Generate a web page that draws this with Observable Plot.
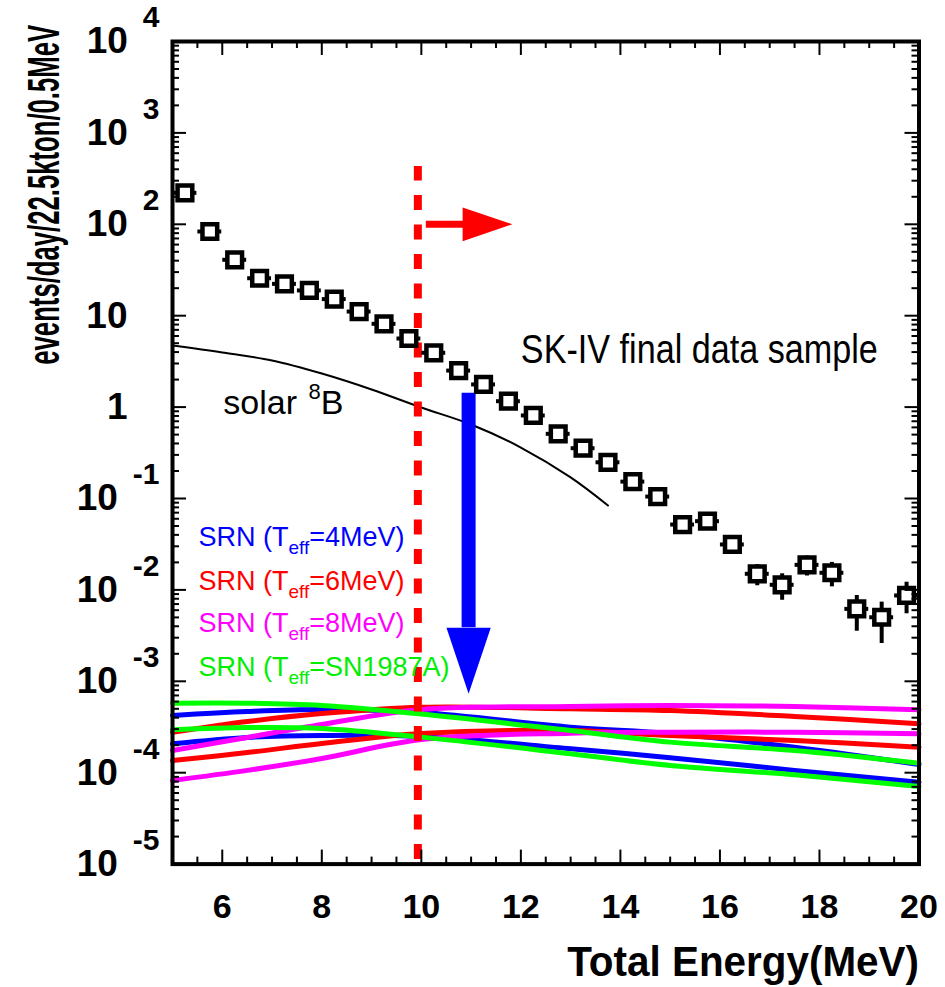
<!DOCTYPE html>
<html><head><meta charset="utf-8">
<script src="https://cdn.jsdelivr.net/npm/d3@7"></script>
<script src="https://cdn.jsdelivr.net/npm/@observablehq/plot@0.6"></script>
<style>
body{margin:0;background:#fff;}
#chart svg{display:block;}
</style></head><body><div id="chart"></div>
<script>
// ---- data: SK-IV final data sample (events/day/22.5kton/0.5MeV)
const binCenters = [5.25,5.75,6.25,6.75,7.25,7.75,8.25,8.75,9.25,9.75,10.25,10.75,11.25,11.75,12.25,12.75,13.25,13.75,14.25,14.75,15.25,15.75,16.25,16.75,17.25,17.75,18.25,18.75,19.25,19.75];
const rates   = [221,83.4,40.9,25.7,22.3,18.9,15.2,11.1,8.15,5.63,3.93,2.51,1.77,1.16,0.81,0.51,0.355,0.249,0.153,0.105,0.0519,0.0565,0.0314,0.0150,0.01137,0.0188,0.0154,0.0062,0.00502,0.00869];
const ratesLo = [218,82.0,39.9,25.0,21.6,18.3,14.6,10.6,7.75,5.31,3.68,2.33,1.63,1.06,0.73,0.455,0.31,0.215,0.130,0.088,0.042,0.047,0.0255,0.0111,0.0077,0.0142,0.0108,0.00353,0.00259,0.00548];
const ratesHi = [224,84.8,41.9,26.4,23.0,19.5,15.8,11.6,8.55,5.95,4.18,2.69,1.91,1.26,0.89,0.565,0.40,0.283,0.176,0.122,0.062,0.066,0.0373,0.0189,0.0150,0.0235,0.0200,0.00869,0.00735,0.01213];

// solar 8B expectation
const solarEnergy = [5, 6, 7, 8, 9, 10, 11, 12, 13, 13.75];
const solarRate   = [4.72, 3.96, 3.24, 2.33, 1.56, 0.99, 0.645, 0.361, 0.17, 0.0838];

// SRN predictions (upper / lower curve for each Teff)
const srnEnergy = [5, 6.5, 8, 10, 13, 15, 17.5, 20];
const srn4High  = [4.23e-4, 4.67e-4, 4.91e-4, 4.56e-4, 3.15e-4, 2.69e-4, 1.90e-4, 1.23e-4];
const srn4Low   = [2.07e-4, 2.43e-4, 2.55e-4, 2.49e-4, 1.83e-4, 1.46e-4, 1.06e-4, 7.87e-5];
const srn6High  = [2.77e-4, 3.63e-4, 4.44e-4, 5.21e-4, 5.00e-4, 4.79e-4, 4.12e-4, 3.43e-4];
const srn6Low   = [1.36e-4, 1.66e-4, 2.09e-4, 2.69e-4, 2.89e-4, 2.55e-4, 2.25e-4, 1.90e-4];
const srn8High  = [1.75e-4, 2.43e-4, 3.37e-4, 4.91e-4, 5.30e-4, 5.43e-4, 5.30e-4, 4.88e-4];
const srn8Low   = [8.22e-5, 1.06e-4, 1.43e-4, 2.31e-4, 2.71e-4, 2.77e-4, 2.77e-4, 2.66e-4];
const srnSNHigh = [5.76e-4, 5.76e-4, 5.44e-4, 4.39e-4, 2.89e-4, 2.16e-4, 1.75e-4, 1.27e-4];
const srnSNLow  = [2.95e-4, 3.12e-4, 3.05e-4, 2.45e-4, 1.61e-4, 1.20e-4, 9.48e-5, 7.06e-5];

const legendLabels = ["SRN (T_{eff}=4MeV)", "SRN (T_{eff}=6MeV)", "SRN (T_{eff}=8MeV)", "SRN (T_{eff}=SN1987A)"];
const legendColors = ["#0000ff", "#ff0000", "#ff00ff", "#00ee00"];
const legendY = [0.0299, 0.0101, 0.00342, 0.00113];
const legendE = 5.52;

// annotations
const thresholdE = 9.93, thresholdTop = 428;
const downArrowE = 10.95, downArrowTop = 1.42, downArrowHeadBase = 3.85e-3, downArrowTip = 7.3e-4, downArrowHalfWidth = 0.445;
const rightArrowY = 100, rightArrowStart = 10.1, rightArrowHeadBase = 10.83, rightArrowTip = 11.83, rightArrowHeadLow = 65.3, rightArrowHeadHigh = 152.8;
const skLabel = {E: 12.0, y: 3.0, text: "SK-IV final data sample"};
const solarLabel = {E: 6.02, y: 0.845, text: "solar ^{8}B"};

// axes
const xMajorTicks = [6, 8, 10, 12, 14, 16, 18, 20];
const xMinorTicks = [5.5,6.5,7,7.5,8.5,9,9.5,10.5,11,11.5,12.5,13,13.5,14.5,15,15.5,16.5,17,17.5,18.5,19,19.5];
const yMajorTicks = [1e-5,1e-4,1e-3,1e-2,1e-1,1,10,100,1000,10000];
const yTickLabels = ["10^{-5}","10^{-4}","10^{-3}","10^{-2}","10^{-1}","1","10","10^{2}","10^{3}","10^{4}"];
const yMinorTicks = d3.range(-5, 4).flatMap(e => d3.range(2, 10).map(k => k * 10 ** e));
const xTitle = "Total Energy(MeV)";
const yTitle = "events/day/22.5kton/0.5MeV";

// ---- build tables
const points = binCenters.map((E, i) => ({E, v: rates[i], lo: ratesLo[i], hi: ratesHi[i]}));
const solar = solarEnergy.map((E, i) => ({E, v: solarRate[i]}));
const srnSeries = [
  {c: "#0000ff", v: srn4High}, {c: "#0000ff", v: srn4Low},
  {c: "#ff0000", v: srn6High}, {c: "#ff0000", v: srn6Low},
  {c: "#ff00ff", v: srn8High}, {c: "#ff00ff", v: srn8Low},
  {c: "#00ff00", v: srnSNHigh}, {c: "#00ff00", v: srnSNLow}
];
const legend = legendLabels.map((t, i) => ({t, c: legendColors[i], y: legendY[i]}));
const downHead = [{E: downArrowE - downArrowHalfWidth, v: downArrowHeadBase}, {E: downArrowE + downArrowHalfWidth, v: downArrowHeadBase}, {E: downArrowE, v: downArrowTip}];
const rightHead = [{E: rightArrowHeadBase, v: rightArrowHeadLow}, {E: rightArrowHeadBase, v: rightArrowHeadHigh}, {E: rightArrowTip, v: rightArrowY}];
const yLabelMap = new Map(yMajorTicks.map((t, i) => [t, yTickLabels[i]]));

const W = 945, H = 987, mL = 172, mR = 26.5, mT = 41, mB = 123.4;
const plotW = W - mL - mR, plotH = H - mT - mB;
const majorLen = 14, minorLen = 7, tickW = 2;

const marks = [];
for (const s of srnSeries) {
  marks.push(Plot.line(srnEnergy, {x: d => d, y: (d, i) => s.v[i], stroke: s.c, strokeWidth: 5, curve: "catmull-rom"}));
}
marks.push(
  Plot.line(solar, {x: "E", y: "v", stroke: "black", strokeWidth: 2, curve: "catmull-rom"}),
  Plot.ruleX([thresholdE], {x: d => d, y1: 1e-5, y2: thresholdTop, stroke: "#ff0000", strokeWidth: 8, strokeDasharray: "15,14.5", strokeDashoffset: 25, strokeLinecap: "butt"}),
  Plot.ruleX([downArrowE], {x: d => d, y1: downArrowTop, y2: downArrowHeadBase, stroke: "#0000ff", strokeWidth: 14, strokeLinecap: "butt"}),
  Plot.line(downHead, {x: "E", y: "v", fill: "#0000ff", stroke: "none"}),
  Plot.ruleY([rightArrowY], {y: d => d, x1: rightArrowStart, x2: rightArrowHeadBase + 0.05, stroke: "#ff0000", strokeWidth: 7, strokeLinecap: "butt"}),
  Plot.line(rightHead, {x: "E", y: "v", fill: "#ff0000", stroke: "none"}),
  Plot.ruleX(points, {x: "E", y1: "lo", y2: "hi", stroke: "black", strokeWidth: 4}),
  Plot.ruleY(points, {y: "v", x1: d => d.E - 0.24, x2: d => d.E + 0.24, stroke: "black", strokeWidth: 4}),
  Plot.dot(points, {x: "E", y: "v", symbol: "square", r: 8.3, stroke: "black", strokeWidth: 4.5, fill: "white"}),
  Plot.text([skLabel], {x: "E", y: "y", text: "text", textAnchor: "start", lineAnchor: "bottom", fontSize: 40, fill: "black", className: "sklabel"}),
  Plot.text([solarLabel], {x: "E", y: "y", text: "text", textAnchor: "start", lineAnchor: "bottom", fontSize: 34, fill: "black", className: "solarlabel"}),
  Plot.text(legend, {x: () => legendE, y: "y", text: "t", fill: d => d.c, textAnchor: "start", lineAnchor: "bottom", fontSize: 27, className: "srnlegend"}),
  // inward ticks on four sides
  Plot.ruleX(xMajorTicks, {x: d => d, insetTop: plotH - majorLen, stroke: "black", strokeWidth: tickW}),
  Plot.ruleX(xMinorTicks, {x: d => d, insetTop: plotH - minorLen, stroke: "black", strokeWidth: tickW}),
  Plot.ruleX(xMajorTicks, {x: d => d, insetBottom: plotH - majorLen, stroke: "black", strokeWidth: tickW}),
  Plot.ruleX(xMinorTicks, {x: d => d, insetBottom: plotH - minorLen, stroke: "black", strokeWidth: tickW}),
  Plot.ruleY(yMajorTicks, {y: d => d, insetRight: plotW - majorLen, stroke: "black", strokeWidth: tickW}),
  Plot.ruleY(yMinorTicks, {y: d => d, insetRight: plotW - minorLen, stroke: "black", strokeWidth: tickW}),
  Plot.ruleY(yMajorTicks, {y: d => d, insetLeft: plotW - majorLen, stroke: "black", strokeWidth: tickW}),
  Plot.ruleY(yMinorTicks, {y: d => d, insetLeft: plotW - minorLen, stroke: "black", strokeWidth: tickW}),
  Plot.frame({stroke: "black", strokeWidth: 4}),
  Plot.axisX({anchor: "bottom", ticks: xMajorTicks, tickSize: 0, tickPadding: 30, fontSize: 34, fontWeight: "bold", label: null, tickFormat: d => String(d)}),
  Plot.axisY({anchor: "left", ticks: yMajorTicks, tickSize: 0, tickPadding: 13, fontSize: 37, fontWeight: "bold", label: null, tickFormat: d => yLabelMap.get(d)}),
  Plot.text([xTitle], {frameAnchor: "bottom-right", text: d => d, dx: 0, dy: 111.4, textAnchor: "end", lineAnchor: "bottom", fontSize: 43, fontWeight: "bold", className: "xtitle"}),
  Plot.text([yTitle], {frameAnchor: "left", text: d => d, dx: -114, dy: -258, rotate: -90, textAnchor: "middle", lineAnchor: "bottom", fontSize: 44, fontWeight: "bold", className: "ytitle"})
);

const svg = Plot.plot({
  width: W, height: H,
  marginLeft: mL, marginRight: mR, marginTop: mT, marginBottom: mB,
  style: {fontFamily: "'Liberation Sans', Arial, Helvetica, sans-serif", background: "white", color: "black", overflow: "visible"},
  x: {domain: [5, 20]},
  y: {type: "log", domain: [1e-5, 1e4]},
  marks
});
document.getElementById("chart").append(svg);

// ---- rich text (sub/superscripts) post-processing
function richText(el, o) {
  const s = el.textContent;
  const re = /([_^])\{([^}]*)\}/g;
  const parts = []; let last = 0, m;
  while ((m = re.exec(s))) {
    if (m.index > last) parts.push({t: s.slice(last, m.index)});
    parts.push({t: m[2], kind: m[1]});
    last = re.lastIndex;
  }
  if (last < s.length) parts.push({t: s.slice(last)});
  if (!parts.some(p => p.kind)) return false;
  while (el.firstChild) el.removeChild(el.firstChild);
  let shift = 0;
  for (const p of parts) {
    const ts = document.createElementNS("http://www.w3.org/2000/svg", "tspan");
    ts.textContent = p.t;
    let target = 0;
    if (p.kind === "_") { target = o.subDy; ts.setAttribute("font-size", o.subSize); }
    else if (p.kind === "^") { target = o.supDy; ts.setAttribute("font-size", o.supSize); if (o.supDx) ts.setAttribute("dx", o.supDx); }
    if (target !== shift) ts.setAttribute("dy", target - shift);
    shift = target;
    el.appendChild(ts);
  }
  return true;
}
svg.querySelectorAll("g.srnlegend text").forEach(el => richText(el, {subSize: 19, subDy: 8}));
svg.querySelectorAll("g.solarlabel text").forEach(el => richText(el, {supSize: 22, supDy: -15, supDx: 2}));
svg.querySelectorAll('g[aria-label="y-axis tick label"] text').forEach(el => {
  const ok = richText(el, {supSize: 30, supDy: -26, supDx: 15});
  if (!ok) el.setAttribute("dx", -32);
});
// condensed fonts: scale glyphs along the text direction to the measured widths
function condense(el, width) {
  const L = el.getComputedTextLength();
  if (!L) return;
  const k = width / L;
  const t = el.getAttribute("transform") || "";
  el.setAttribute("transform", (t + ` scale(${k},1)`).trim());
}
svg.querySelectorAll("g.sklabel text").forEach(el => condense(el, 357));
svg.querySelectorAll("g.ytitle text").forEach(el => condense(el, 340));
svg.querySelectorAll("g.xtitle text").forEach(el => condense(el, 352));
</script>
</body></html>
